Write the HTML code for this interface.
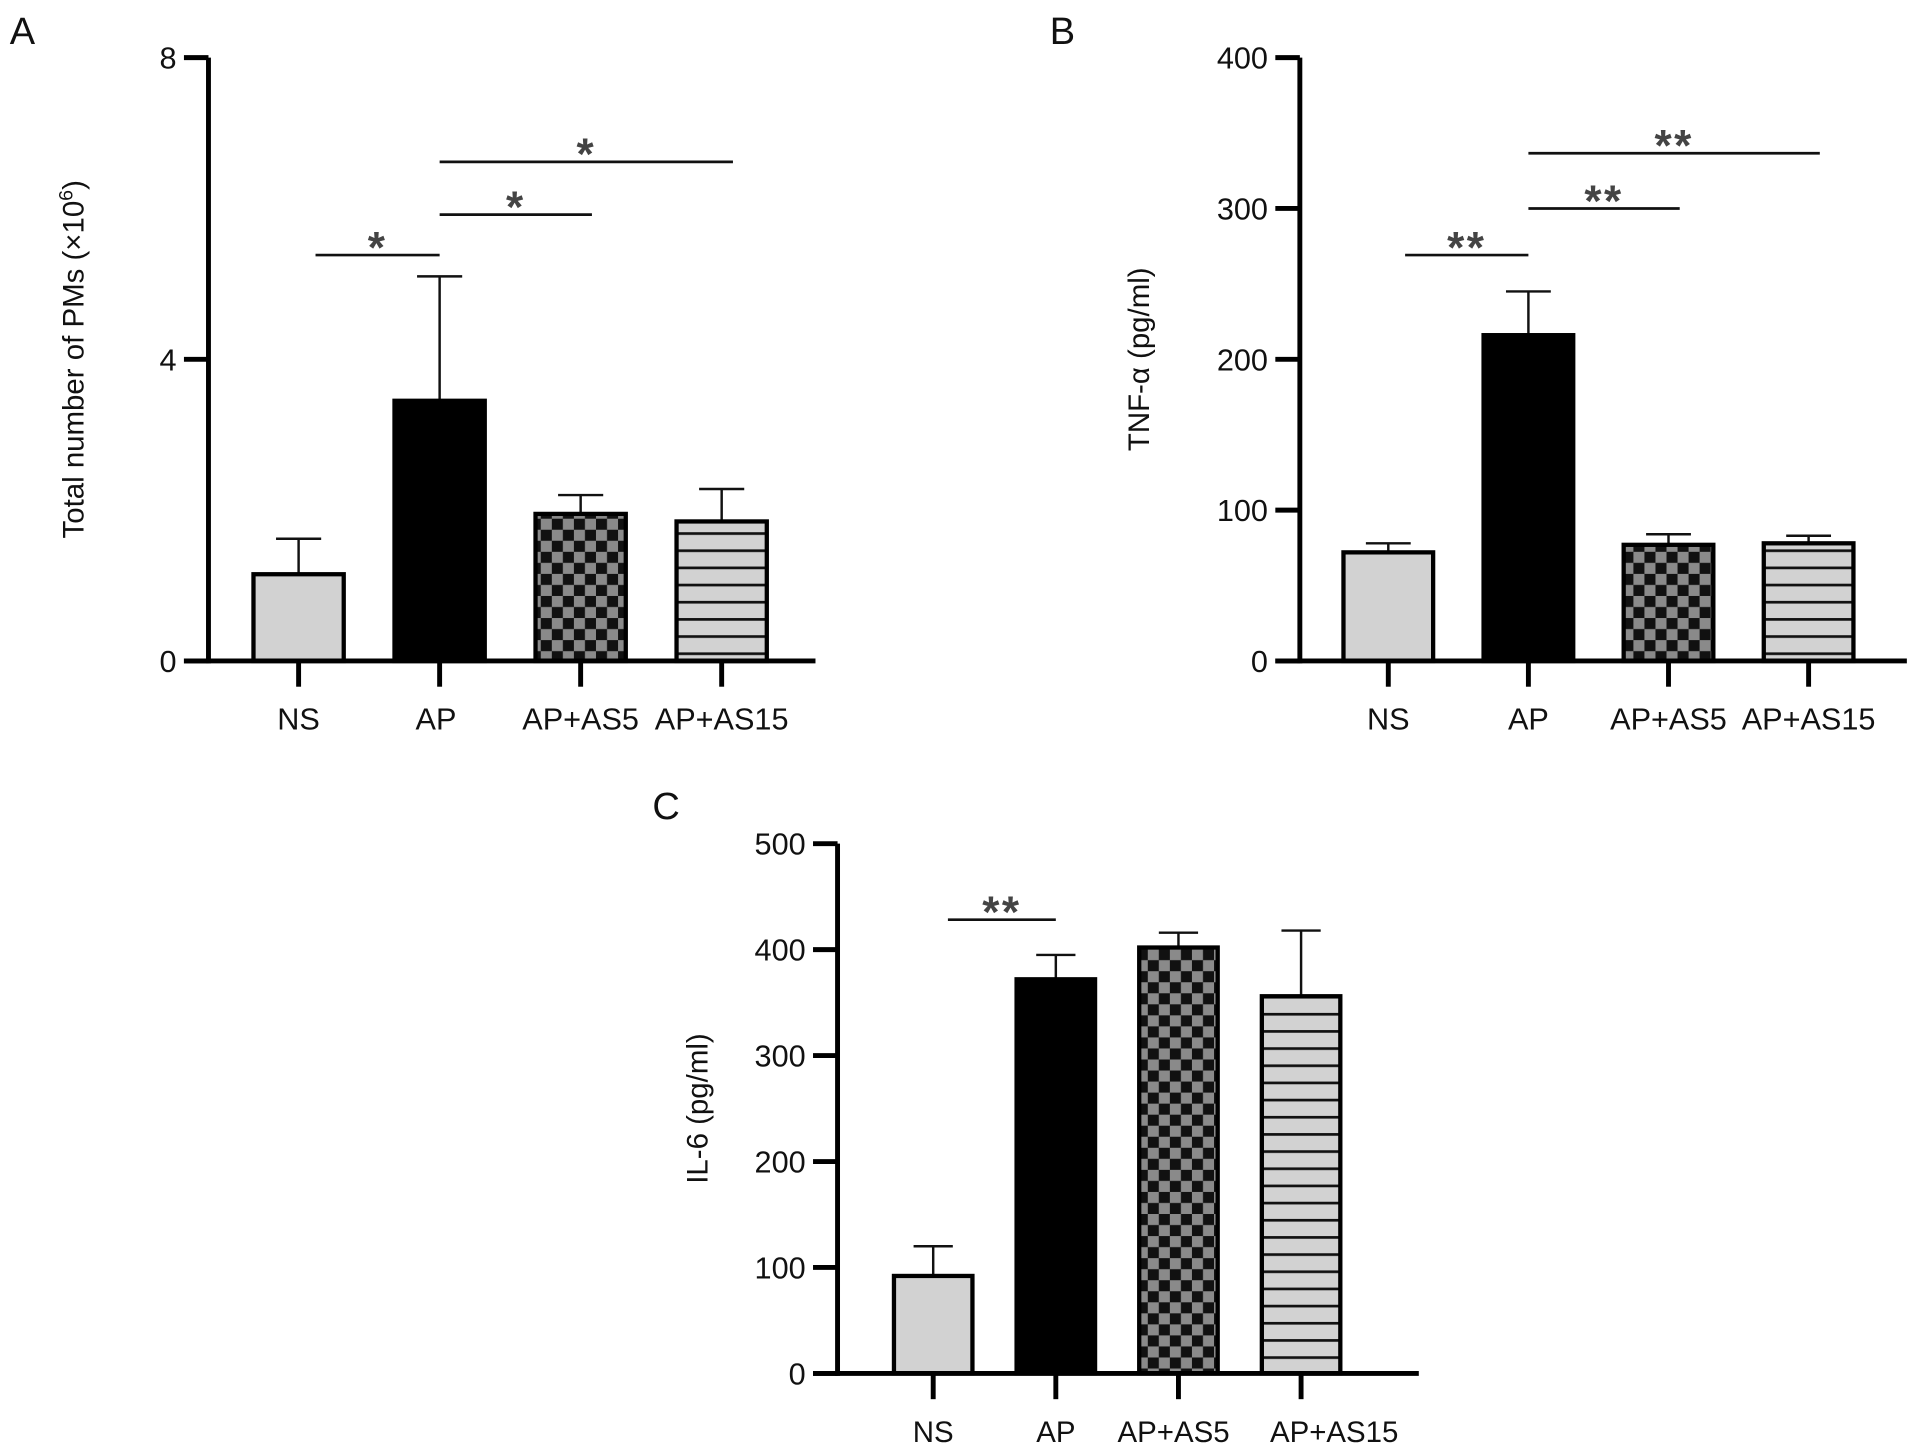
<!DOCTYPE html>
<html><head><meta charset="utf-8"><style>
html,body{margin:0;padding:0;background:#fff;}
svg{display:block;font-family:"Liberation Sans",sans-serif;}
</style></head><body>
<svg id="fig" width="1913" height="1447" viewBox="0 0 1560 1180" xmlns="http://www.w3.org/2000/svg">
<defs>
<pattern id="checker" patternUnits="userSpaceOnUse" width="18" height="18">
<rect width="18" height="18" fill="#111"/>
<rect x="0" y="0" width="9" height="9" fill="#8a8a8a"/>
<rect x="9" y="9" width="9" height="9" fill="#8a8a8a"/>
</pattern>
<pattern id="stripes" patternUnits="userSpaceOnUse" width="10" height="14">
<rect width="10" height="14" fill="#d2d2d2"/>
<rect y="0" width="10" height="2.2" fill="#111"/>
</pattern>
</defs>
</svg>
<script>
const categories = ["NS","AP","AP+AS5","AP+AS15"];
const pmsMeans = [1.15, 3.45, 1.95, 1.85];
const pmsErrors = [1.62, 5.1, 2.2, 2.28];
const pmsTicks = [0, 4, 8];
const tnfMeans = [72, 216, 77, 78];
const tnfErrors = [78, 245, 84, 83];
const tnfTicks = [0, 100, 200, 300, 400];
const il6Means = [92, 372, 402, 356];
const il6Errors = [120, 395, 416, 418];
const il6Ticks = [0, 100, 200, 300, 400, 500];
const pmsSig = [[0,1,"*"],[1,2,"*"],[1,3,"*"]];
const tnfSig = [[0,1,"**"],[1,2,"**"],[1,3,"**"]];
const il6Sig = [[0,1,"**"]];

const svg = document.getElementById('fig');
const NS = 'http://www.w3.org/2000/svg';
function mk(tag, attrs, parent, text){
  const e = document.createElementNS(NS, tag);
  for (const k in attrs) e.setAttribute(k, attrs[k]);
  if (text !== undefined) e.textContent = text;
  (parent||svg).appendChild(e);
  return e;
}
const fills = ["#d2d2d2", "#000", "url(#checker)", "url(#stripes)"];

function panel(cfg){
  const g = mk('g', {});
  
  
  const max = cfg.ticks[cfg.ticks.length-1];
  const y = v => cfg.y0 - (v/max)*(cfg.y0 - cfg.yTop);
  const n = categories.length;
  const step = (cfg.xEnd - cfg.xStart)/n;
  const xc = i => cfg.xStart + step*(i+0.5);
  const bw = step*cfg.bwFrac;
  const L = mk('text', {x:cfg.letter[1], y:cfg.letter[2], 'font-size':31, fill:'#111'}, g, cfg.letter[0]);
  
  
  for (let i=0;i<n;i++){
    const top = y(cfg.means[i]);
    const eb = mk('line', {x1:xc(i), x2:xc(i), y1:top, y2:y(cfg.errors[i]), stroke:'#111','stroke-width':2}, g);
    
    
    const cap = mk('line', {x1:xc(i)-bw*0.25, x2:xc(i)+bw*0.25, y1:y(cfg.errors[i]), y2:y(cfg.errors[i]), stroke:'#111','stroke-width':2}, g);
    
    
    const r = mk('rect', {x:xc(i)-bw/2, y:top, width:bw, height:cfg.y0-top, fill:fills[i], stroke:'#000','stroke-width':3.5}, g);
    
    
    const t = mk('line', {x1:xc(i), x2:xc(i), y1:cfg.y0, y2:cfg.y0+21, stroke:'#000','stroke-width':4}, g);
    
    
    const cl = mk('text', {x:xc(i)+cfg.labelDx[i], y:cfg.y0+56, 'font-size':cfg.catFont, 'text-anchor':'middle', fill:'#111'}, g, categories[i]);
    
    
  }
  const ya = mk('line', {x1:cfg.xAxis, x2:cfg.xAxis, y1:cfg.yTop, y2:cfg.y0+2, stroke:'#000','stroke-width':4}, g);
  
  
  const xa = mk('line', {x1:cfg.xAxis-20, x2:cfg.xEnd+cfg.xPad, y1:cfg.y0, y2:cfg.y0, stroke:'#000','stroke-width':4}, g);
  
  
  for (const v of cfg.ticks){
    const tk = mk('line', {x1:cfg.xAxis-20, x2:cfg.xAxis, y1:y(v), y2:y(v), stroke:'#000','stroke-width':4}, g);
    
    
    const tl = mk('text', {x:cfg.xAxis-26, y:y(v)+9, 'font-size':25, 'text-anchor':'end', fill:'#111'}, g, String(v));
    
    
  }
  const tt = mk('text', {x:0, y:0, 'font-size':24, 'text-anchor':'middle', fill:'#111', transform:`translate(${cfg.titleX},${(cfg.y0+cfg.yTop)/2}) rotate(-90)`}, g);
  
  
  tt.innerHTML = cfg.title;
  cfg.sig.forEach((s, k) => {
    const by = cfg.sigY[k];
    const x1 = xc(s[0]) + (s[0]===0 ? step*0.12 : 0);
    const x2 = xc(s[1]) + (s[0]===0 ? 0 : step*0.08);
    const bl = mk('line', {x1:x1, x2:x2, y1:by, y2:by, stroke:'#111','stroke-width':2.2}, g);
    
    
    const st = mk('text', {x:(x1+x2)/2, y:by+6, 'font-size':36, 'font-weight':'bold', 'text-anchor':'middle', fill:'#444', 'letter-spacing':'2'}, g, s[2]);
    
    
  });
}

panel({name:'panel-a-pms', letter:['A',8,36], means:pmsMeans, errors:pmsErrors, ticks:pmsTicks,
  y0:539, yTop:47, xAxis:170, xStart:186, xEnd:646, xPad:19, bwFrac:0.64, catFont:25, labelDx:[0,-3,0,0],
  title:'Total number of PMs (×10<tspan dy="-9" font-size="16">6</tspan><tspan dy="9">)</tspan>',
  titleX:68, sig:pmsSig, sigY:[208,175,132]});
panel({name:'panel-b-tnf', letter:['B',856,36], means:tnfMeans, errors:tnfErrors, ticks:tnfTicks,
  y0:539, yTop:47, xAxis:1060, xStart:1075, xEnd:1532, xPad:23, bwFrac:0.64, catFont:25, labelDx:[0,0,0,0],
  title:'TNF-α (pg/ml)', titleX:937, sig:tnfSig, sigY:[208,170,125]});
panel({name:'panel-c-il6', letter:['C',532,668], means:il6Means, errors:il6Errors, ticks:il6Ticks,
  y0:1120, yTop:688, xAxis:683, xStart:711, xEnd:1111, xPad:46, bwFrac:0.64, catFont:24, labelDx:[0,0,-4,27],
  title:'IL-6 (pg/ml)', titleX:577, sig:il6Sig, sigY:[750]});
</script>
</body></html>
